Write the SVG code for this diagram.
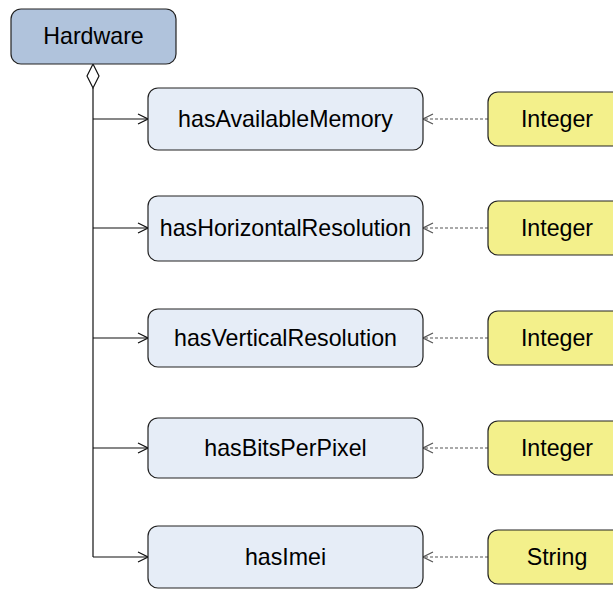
<svg xmlns="http://www.w3.org/2000/svg" width="613" height="590" viewBox="0 0 613 590">
<style>
.box{stroke:#222;stroke-width:1.2}
.hw{fill:#b0c3dc}
.prop{fill:#e6edf7}
.dt{fill:#f3f08b}
text{font-family:"Liberation Sans",Arial,sans-serif;font-size:23.2px;fill:#000;text-anchor:middle}
.solid{stroke:#111;stroke-width:1.2;fill:none}
.dash{stroke:#555;stroke-width:1.2;fill:none;stroke-dasharray:3,2}
</style>
<defs>
<marker id="open" markerWidth="12" markerHeight="12" refX="11" refY="6" orient="auto" markerUnits="userSpaceOnUse">
<path d="M1,1 L11,6 L1,11" fill="none" stroke="#111" stroke-width="1.2"/>
</marker>
<marker id="openg" markerWidth="12" markerHeight="12" refX="11" refY="6" orient="auto" markerUnits="userSpaceOnUse">
<path d="M1,1 L11,6 L1,11" fill="none" stroke="#555" stroke-width="1.2"/>
</marker>
</defs>
<g id="connectors">
<path class="solid" d="M93,88 V557"/>
<path class="solid" d="M93,64 L99,76 L93,88 L87,76 Z" fill="#fff"/>
<path class="solid" d="M93,119 H148" marker-end="url(#open)"/>
<path class="solid" d="M93,228 H148" marker-end="url(#open)"/>
<path class="solid" d="M93,338 H148" marker-end="url(#open)"/>
<path class="solid" d="M93,448 H148" marker-end="url(#open)"/>
<path class="solid" d="M93,557 H148" marker-end="url(#open)"/>
<path class="dash" d="M488,119 H423" marker-end="url(#openg)"/>
<path class="dash" d="M488,228 H423" marker-end="url(#openg)"/>
<path class="dash" d="M488,338 H423" marker-end="url(#openg)"/>
<path class="dash" d="M488,448 H423" marker-end="url(#openg)"/>
<path class="dash" d="M488,557 H423" marker-end="url(#openg)"/>
</g>
<g id="Hardware"><rect class="box hw" x="11" y="9" width="165" height="55" rx="10"/><text x="93.5" y="44">Hardware</text></g>
<g id="hasAvailableMemory"><rect class="box prop" x="148" y="88" width="275" height="62" rx="10"/><text x="285.5" y="127">hasAvailableMemory</text></g>
<g id="hasHorizontalResolution"><rect class="box prop" x="148" y="196" width="275" height="65" rx="10"/><text x="285.5" y="236">hasHorizontalResolution</text></g>
<g id="hasVerticalResolution"><rect class="box prop" x="148" y="309" width="275" height="58" rx="10"/><text x="285.5" y="346">hasVerticalResolution</text></g>
<g id="hasBitsPerPixel"><rect class="box prop" x="148" y="418" width="275" height="60" rx="10"/><text x="285.5" y="456">hasBitsPerPixel</text></g>
<g id="hasImei"><rect class="box prop" x="148" y="526" width="275" height="62" rx="10"/><text x="285.5" y="565">hasImei</text></g>
<g id="Integer1"><rect class="box dt" x="488" y="92" width="140" height="54" rx="10"/><text x="557" y="127">Integer</text></g>
<g id="Integer2"><rect class="box dt" x="488" y="201" width="140" height="54" rx="10"/><text x="557" y="236">Integer</text></g>
<g id="Integer3"><rect class="box dt" x="488" y="311" width="140" height="54" rx="10"/><text x="557" y="346">Integer</text></g>
<g id="Integer4"><rect class="box dt" x="488" y="421" width="140" height="54" rx="10"/><text x="557" y="456">Integer</text></g>
<g id="String"><rect class="box dt" x="488" y="530" width="140" height="54" rx="10"/><text x="557" y="565">String</text></g>
</svg>
